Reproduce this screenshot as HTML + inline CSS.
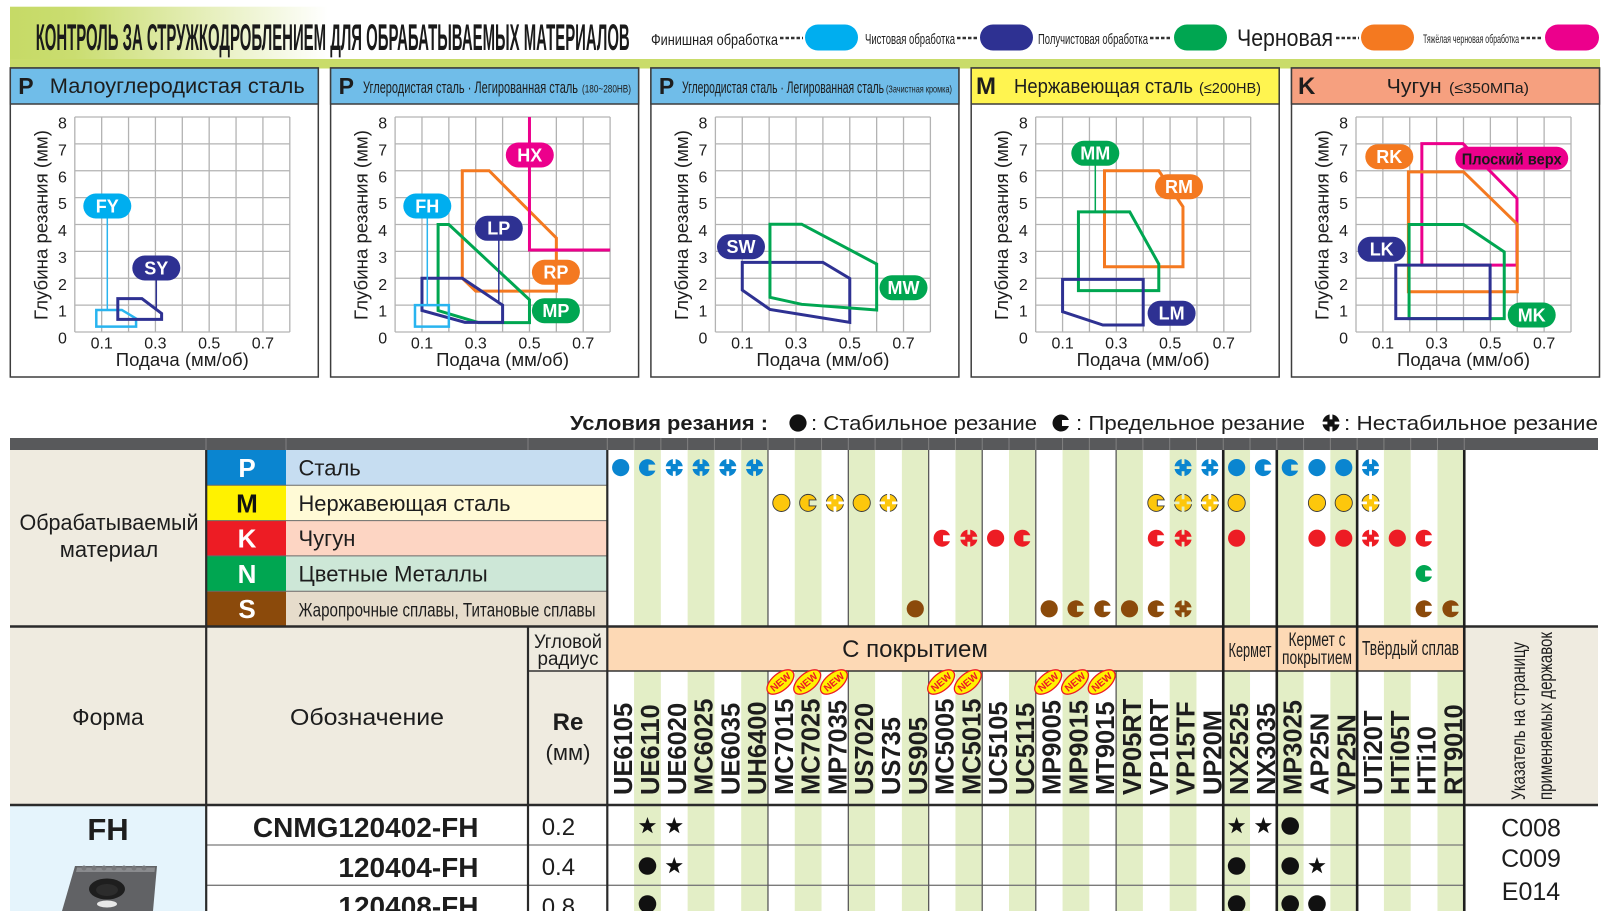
<!DOCTYPE html>
<html><head><meta charset="utf-8">
<style>
html,body{margin:0;padding:0;background:#fff;}
svg{display:block;}
text{font-family:"Liberation Sans","DejaVu Sans",sans-serif;fill:#1d1d1d;}
.d *{vector-effect:non-scaling-stroke;}
.pl{font-weight:bold;font-size:18px;fill:#fff;text-anchor:middle;}
.tk{font-size:16px;text-anchor:middle;fill:#222;}
.gn{font-size:25.5px;font-weight:bold;fill:#111;}
</style></head><body>
<svg xmlns="http://www.w3.org/2000/svg" xmlns:xlink="http://www.w3.org/1999/xlink" width="1611" height="911" viewBox="0 0 1611 911">
<defs>
 <linearGradient id="hg" x1="0" x2="1" y1="0" y2="0">
  <stop offset="0" stop-color="#c6da66"/>
  <stop offset="0.04" stop-color="#cadd70"/>
  <stop offset="0.2" stop-color="#ffffff"/>
 </linearGradient>
 <g id="grid" fill="none" stroke="#b3b3b3" stroke-width="1.3">
  <path d="M0,0H215M0,26.875H215M0,53.75H215M0,80.625H215M0,107.5H215M0,134.375H215M0,161.25H215M0,188.125H215M0,215H215M0,0V215M26.875,0V215M53.75,0V215M80.625,0V215M107.5,0V215M134.375,0V215M161.25,0V215M188.125,0V215M215,0V215"/>
 </g>
 <mask id="mX" maskContentUnits="userSpaceOnUse">
  <rect x="-11" y="-11" width="22" height="22" fill="#fff"/>
  <path d="M-1.4,-11h2.8v7.4h-2.8z M-1.4,3.6h2.8v7.4h-2.8z M-11,-1.4h7.4v2.8h-7.4z M3.6,-1.4h7.4v2.8h-7.4z" fill="#000"/>
 </mask>
 <g id="sF"><circle r="8.6"/></g>
 <g id="sC"><path d="M7.95,-3 A8.5,8.5 0 1 0 7.95,3 L1,3 L1,-3 Z"/></g>
 <g id="sX"><circle r="8.6" mask="url(#mX)"/></g>
 <g id="st"><polygon points="0,-9 2.12,-2.91 8.56,-2.78 3.42,1.11 5.29,7.28 0,3.6 -5.29,7.28 -3.42,1.11 -8.56,-2.78 -2.12,-2.91" fill="#111"/></g>
 <g id="dt"><circle r="8.8" fill="#111"/></g>
</defs>

<!-- header band -->
<rect x="10" y="6.7" width="1590" height="53" fill="url(#hg)"/>
<rect x="10" y="59" width="1590" height="9.5" fill="#c9dc6a"/>
<text x="35.7" y="50" font-size="37" font-weight="bold" textLength="594" lengthAdjust="spacingAndGlyphs" style="fill:#1a1a1a">КОНТРОЛЬ ЗА СТРУЖКОДРОБЛЕНИЕМ ДЛЯ ОБРАБАТЫВАЕМЫХ МАТЕРИАЛОВ</text>

<!-- top legend -->
<text x="651" y="45" font-size="16" textLength="127" lengthAdjust="spacingAndGlyphs">Финишная обработка</text>
<line x1="780" y1="38" x2="803" y2="38" stroke="#333" stroke-width="2.4" stroke-dasharray="3.5,2"/>
<rect x="805" y="24.5" width="53" height="26" rx="13" fill="#00aeef"/>
<text x="865" y="44" font-size="15" textLength="90" lengthAdjust="spacingAndGlyphs">Чистовая обработка</text>
<line x1="957" y1="38" x2="978" y2="38" stroke="#333" stroke-width="2.4" stroke-dasharray="3.5,2"/>
<rect x="980" y="24.5" width="53" height="26" rx="13" fill="#2e3192"/>
<text x="1038" y="44" font-size="15" textLength="110" lengthAdjust="spacingAndGlyphs">Получистовая обработка</text>
<line x1="1150" y1="38" x2="1171" y2="38" stroke="#333" stroke-width="2.4" stroke-dasharray="3.5,2"/>
<rect x="1174" y="24.5" width="53" height="26" rx="13" fill="#00a651"/>
<text x="1237" y="46" font-size="24" textLength="96" lengthAdjust="spacingAndGlyphs">Черновая</text>
<line x1="1336" y1="38" x2="1359" y2="38" stroke="#333" stroke-width="2.4" stroke-dasharray="3.5,2"/>
<rect x="1361" y="24.5" width="53" height="26" rx="13" fill="#f47920"/>
<text x="1423" y="43" font-size="12" textLength="96" lengthAdjust="spacingAndGlyphs">Тяжёлая черновая обработка</text>
<line x1="1521" y1="38" x2="1543" y2="38" stroke="#333" stroke-width="2.4" stroke-dasharray="3.5,2"/>
<rect x="1545" y="24.5" width="54" height="26" rx="13" fill="#ec008c"/>

<!-- ================= PANEL 1 ================= -->
<rect x="10.3" y="68" width="308" height="309" fill="#fff" stroke="#3d3d3d" stroke-width="1.5"/>
<rect x="10.3" y="68" width="308" height="36" fill="#70bde9" stroke="#3d3d3d" stroke-width="1.5"/>
<text x="18.3" y="94" font-size="23" font-weight="bold">P</text>
<text x="49.8" y="93" font-size="21" textLength="255" lengthAdjust="spacingAndGlyphs">Малоуглеродистая сталь</text>
<use href="#grid" x="74.8" y="117"/>
<g class="tk"><text x="62.4" y="343.5">0</text><text x="62.4" y="316.6">1</text><text x="62.4" y="289.8">2</text><text x="62.4" y="262.9">3</text><text x="62.4" y="236">4</text><text x="62.4" y="209.1">5</text><text x="62.4" y="182.3">6</text><text x="62.4" y="155.4">7</text><text x="62.4" y="128.5">8</text>
<text x="101.7" y="348.3">0.1</text><text x="155.4" y="348.3">0.3</text><text x="209.2" y="348.3">0.5</text><text x="262.9" y="348.3">0.7</text></g>
<text transform="translate(47.3,225) rotate(-90)" font-size="18" text-anchor="middle" textLength="190" lengthAdjust="spacingAndGlyphs">Глубина резания (мм)</text>
<text x="182.3" y="366" font-size="18" text-anchor="middle" textLength="133" lengthAdjust="spacingAndGlyphs">Подача (мм/об)</text>
<g class="d" transform="translate(74.8,332) scale(268.75,-26.875)" fill="none" stroke-width="3">
 <polygon points="0.08,0.2 0.08,0.82 0.175,0.82 0.228,0.5 0.228,0.2" stroke="#29b4ef" stroke-width="2.5"/>
 <polygon points="0.16,0.47 0.16,1.24 0.25,1.24 0.323,0.69 0.323,0.47" stroke="#2e3192"/>
</g>
<line x1="107.3" y1="218" x2="107.3" y2="310" stroke="#29b4ef" stroke-width="1.5"/>
<line x1="156.3" y1="280" x2="156.3" y2="308" stroke="#2e3192" stroke-width="1.5"/>
<rect x="83.3" y="193.5" width="48" height="25" rx="12.5" fill="#00aeef"/><text class="pl" x="107.3" y="212.3">FY</text>
<rect x="132.3" y="255.5" width="48" height="25" rx="12.5" fill="#2e3192"/><text class="pl" x="156.3" y="274.3">SY</text>

<!-- ================= PANEL 2 ================= -->
<rect x="330.6" y="68" width="308" height="309" fill="#fff" stroke="#3d3d3d" stroke-width="1.5"/>
<rect x="330.6" y="68" width="308" height="36" fill="#70bde9" stroke="#3d3d3d" stroke-width="1.5"/>
<text x="338.6" y="94" font-size="23" font-weight="bold">P</text>
<text x="363" y="93" font-size="17" textLength="215" lengthAdjust="spacingAndGlyphs">Углеродистая сталь · Легированная сталь</text>
<text x="582" y="92.5" font-size="11" textLength="49" lengthAdjust="spacingAndGlyphs">(180~280HB)</text>
<use href="#grid" x="395.1" y="117"/>
<g class="tk"><text x="382.7" y="343.5">0</text><text x="382.7" y="316.6">1</text><text x="382.7" y="289.8">2</text><text x="382.7" y="262.9">3</text><text x="382.7" y="236">4</text><text x="382.7" y="209.1">5</text><text x="382.7" y="182.3">6</text><text x="382.7" y="155.4">7</text><text x="382.7" y="128.5">8</text>
<text x="422" y="348.3">0.1</text><text x="475.7" y="348.3">0.3</text><text x="529.5" y="348.3">0.5</text><text x="583.2" y="348.3">0.7</text></g>
<text transform="translate(367.6,225) rotate(-90)" font-size="18" text-anchor="middle" textLength="190" lengthAdjust="spacingAndGlyphs">Глубина резания (мм)</text>
<text x="502.6" y="366" font-size="18" text-anchor="middle" textLength="133" lengthAdjust="spacingAndGlyphs">Подача (мм/об)</text>
<g class="d" transform="translate(395.1,332) scale(268.75,-26.875)" fill="none" stroke-width="3">
 <polygon points="0.25,6 0.35,6 0.6,3.5 0.6,1.52 0.3,1.52 0.25,2" stroke="#f47920"/>
 <polyline points="0.5,8 0.5,3.05 0.8,3.05" stroke="#ec008c"/>
 <polygon points="0.16,4 0.2,4 0.5,1.2 0.5,0.35 0.31,0.35 0.16,0.8" stroke="#00a651"/>
 <polygon points="0.1,2 0.25,2 0.4,1 0.4,0.36 0.26,0.36 0.1,0.8" stroke="#2e3192"/>
 <polygon points="0.074,0.2 0.074,1 0.2,1 0.2,0.2" stroke="#29b4ef" stroke-width="2.5"/>
</g>
<line x1="427.3" y1="218" x2="427.3" y2="305" stroke="#29b4ef" stroke-width="1.5"/>
<line x1="498.8" y1="240" x2="498.8" y2="303" stroke="#2e3192" stroke-width="1.5"/>
<rect x="403.3" y="193.5" width="48" height="25" rx="12.5" fill="#00aeef"/><text class="pl" x="427.3" y="212.3">FH</text>
<rect x="474.8" y="215.8" width="48" height="25" rx="12.5" fill="#2e3192"/><text class="pl" x="498.8" y="234.6">LP</text>
<rect x="505.8" y="142.5" width="48" height="25" rx="12.5" fill="#ec008c"/><text class="pl" x="529.8" y="161.3">HX</text>
<rect x="531.9" y="259.8" width="48" height="25" rx="12.5" fill="#f47920"/><text class="pl" x="555.9" y="278.6">RP</text>
<rect x="531.9" y="298.2" width="48" height="25" rx="12.5" fill="#00a651"/><text class="pl" x="555.9" y="317">MP</text>

<!-- ================= PANEL 3 ================= -->
<rect x="650.9" y="68" width="308" height="309" fill="#fff" stroke="#3d3d3d" stroke-width="1.5"/>
<rect x="650.9" y="68" width="308" height="36" fill="#70bde9" stroke="#3d3d3d" stroke-width="1.5"/>
<text x="658.9" y="94" font-size="23" font-weight="bold">P</text>
<text x="682" y="93" font-size="17" textLength="202" lengthAdjust="spacingAndGlyphs">Углеродистая сталь · Легированная сталь</text>
<text x="886" y="92.5" font-size="10" textLength="66" lengthAdjust="spacingAndGlyphs">(Зачистная кромка)</text>
<use href="#grid" x="715.4" y="117"/>
<g class="tk"><text x="703" y="343.5">0</text><text x="703" y="316.6">1</text><text x="703" y="289.8">2</text><text x="703" y="262.9">3</text><text x="703" y="236">4</text><text x="703" y="209.1">5</text><text x="703" y="182.3">6</text><text x="703" y="155.4">7</text><text x="703" y="128.5">8</text>
<text x="742.3" y="348.3">0.1</text><text x="796" y="348.3">0.3</text><text x="849.8" y="348.3">0.5</text><text x="903.5" y="348.3">0.7</text></g>
<text transform="translate(687.9,225) rotate(-90)" font-size="18" text-anchor="middle" textLength="190" lengthAdjust="spacingAndGlyphs">Глубина резания (мм)</text>
<text x="822.9" y="366" font-size="18" text-anchor="middle" textLength="133" lengthAdjust="spacingAndGlyphs">Подача (мм/об)</text>
<g class="d" transform="translate(715.4,332) scale(268.75,-26.875)" fill="none" stroke-width="3">
 <polygon points="0.1,2.59 0.4,2.59 0.5,1.99 0.5,0.36 0.203,0.84 0.1,1.56" stroke="#2e3192"/>
 <polygon points="0.203,4.01 0.321,4.01 0.6,2.53 0.6,0.82 0.321,1.03 0.203,1.29" stroke="#00a651"/>
</g>
<rect x="717" y="234.2" width="48" height="25" rx="12.5" fill="#2e3192"/><text class="pl" x="741" y="253">SW</text>
<rect x="879.5" y="275.2" width="48" height="25" rx="12.5" fill="#00a651"/><text class="pl" x="903.5" y="294">MW</text>

<!-- ================= PANEL 4 ================= -->
<rect x="971.2" y="68" width="308" height="309" fill="#fff" stroke="#3d3d3d" stroke-width="1.5"/>
<rect x="971.2" y="68" width="308" height="36" fill="#fff450" stroke="#3d3d3d" stroke-width="1.5"/>
<text x="976" y="94" font-size="24" font-weight="bold">M</text>
<text x="1014" y="93" font-size="20" textLength="179" lengthAdjust="spacingAndGlyphs">Нержавеющая сталь</text>
<text x="1199" y="93" font-size="15" textLength="62" lengthAdjust="spacingAndGlyphs">(≤200HB)</text>
<use href="#grid" x="1035.7" y="117"/>
<g class="tk"><text x="1023.3" y="343.5">0</text><text x="1023.3" y="316.6">1</text><text x="1023.3" y="289.8">2</text><text x="1023.3" y="262.9">3</text><text x="1023.3" y="236">4</text><text x="1023.3" y="209.1">5</text><text x="1023.3" y="182.3">6</text><text x="1023.3" y="155.4">7</text><text x="1023.3" y="128.5">8</text>
<text x="1062.6" y="348.3">0.1</text><text x="1116.3" y="348.3">0.3</text><text x="1170.1" y="348.3">0.5</text><text x="1223.8" y="348.3">0.7</text></g>
<text transform="translate(1008.2,225) rotate(-90)" font-size="18" text-anchor="middle" textLength="190" lengthAdjust="spacingAndGlyphs">Глубина резания (мм)</text>
<text x="1143.2" y="366" font-size="18" text-anchor="middle" textLength="133" lengthAdjust="spacingAndGlyphs">Подача (мм/об)</text>
<g class="d" transform="translate(1035.7,332) scale(268.75,-26.875)" fill="none" stroke-width="3">
 <polygon points="0.256,6 0.458,6 0.548,4.66 0.548,2.43 0.256,2.43" stroke="#f47920"/>
 <polygon points="0.159,4.47 0.35,4.47 0.458,2.53 0.458,1.54 0.159,1.54" stroke="#00a651"/>
 <polygon points="0.1,1.96 0.4,1.96 0.4,0.26 0.25,0.26 0.1,0.755" stroke="#2e3192"/>
</g>
<line x1="1095.3" y1="165" x2="1095.3" y2="212" stroke="#00a651" stroke-width="1.5"/>
<rect x="1071.3" y="140.8" width="48" height="25" rx="12.5" fill="#00a651"/><text class="pl" x="1095.3" y="159.6">MM</text>
<rect x="1155" y="174.2" width="48" height="25" rx="12.5" fill="#f47920"/><text class="pl" x="1179" y="193">RM</text>
<rect x="1147.6" y="300.8" width="48" height="25" rx="12.5" fill="#2e3192"/><text class="pl" x="1171.6" y="319.6">LM</text>

<!-- ================= PANEL 5 ================= -->
<rect x="1291.5" y="68" width="308" height="309" fill="#fff" stroke="#3d3d3d" stroke-width="1.5"/>
<rect x="1291.5" y="68" width="308" height="36" fill="#f6a07f" stroke="#3d3d3d" stroke-width="1.5"/>
<text x="1298" y="94" font-size="24" font-weight="bold">K</text>
<text x="1386.7" y="93" font-size="20" textLength="55" lengthAdjust="spacingAndGlyphs">Чугун</text>
<text x="1449" y="93" font-size="15" textLength="80" lengthAdjust="spacingAndGlyphs">(≤350МПа)</text>
<use href="#grid" x="1356" y="117"/>
<g class="tk"><text x="1343.6" y="343.5">0</text><text x="1343.6" y="316.6">1</text><text x="1343.6" y="289.8">2</text><text x="1343.6" y="262.9">3</text><text x="1343.6" y="236">4</text><text x="1343.6" y="209.1">5</text><text x="1343.6" y="182.3">6</text><text x="1343.6" y="155.4">7</text><text x="1343.6" y="128.5">8</text>
<text x="1382.9" y="348.3">0.1</text><text x="1436.6" y="348.3">0.3</text><text x="1490.4" y="348.3">0.5</text><text x="1544.1" y="348.3">0.7</text></g>
<text transform="translate(1328.5,225) rotate(-90)" font-size="18" text-anchor="middle" textLength="190" lengthAdjust="spacingAndGlyphs">Глубина резания (мм)</text>
<text x="1463.5" y="366" font-size="18" text-anchor="middle" textLength="133" lengthAdjust="spacingAndGlyphs">Подача (мм/об)</text>
<g class="d" transform="translate(1356,332) scale(268.75,-26.875)" fill="none" stroke-width="3">
 <polygon points="0.245,7.01 0.398,7.01 0.599,4.97 0.599,2.49 0.245,2.49" stroke="#ec008c"/>
 <polygon points="0.195,5.96 0.4,5.96 0.6,4.01 0.6,1.5 0.195,1.5" stroke="#f47920"/>
 <polygon points="0.1975,4 0.4,4 0.5516,2.98 0.5516,0.5 0.1975,0.5" stroke="#00a651"/>
 <polygon points="0.148,2.49 0.499,2.49 0.499,0.5 0.148,0.5" stroke="#2e3192"/>
</g>
<rect x="1365.3" y="144.2" width="48" height="25" rx="12.5" fill="#f47920"/><text class="pl" x="1389.3" y="163">RK</text>
<rect x="1455.2" y="146.8" width="113" height="23" rx="11.5" fill="#ec008c"/><text x="1511.7" y="164.3" font-size="16" font-weight="bold" text-anchor="middle" textLength="100" lengthAdjust="spacingAndGlyphs" style="fill:#1a1a1a">Плоский верх</text>
<rect x="1357.7" y="236.8" width="48" height="25" rx="12.5" fill="#2e3192"/><text class="pl" x="1381.7" y="255.6">LK</text>
<rect x="1507.7" y="302.5" width="48" height="25" rx="12.5" fill="#00a651"/><text class="pl" x="1531.7" y="321.3">MK</text>

<!-- cutting condition legend -->
<text x="570" y="430" font-size="20" font-weight="bold" textLength="198" lengthAdjust="spacingAndGlyphs">Условия резания :</text>
<use href="#sF" x="798" y="423" fill="#111"/>
<text x="811" y="430" font-size="20" textLength="226" lengthAdjust="spacingAndGlyphs">: Стабильное резание</text>
<use href="#sC" x="1061" y="423" fill="#111"/>
<text x="1076" y="430" font-size="20" textLength="229" lengthAdjust="spacingAndGlyphs">: Предельное резание</text>
<use href="#sX" x="1331" y="423" fill="#111"/>
<text x="1344" y="430" font-size="20" textLength="254" lengthAdjust="spacingAndGlyphs">: Нестабильное резание</text>

<!-- ================= TABLE ================= -->
<rect x="10" y="450" width="196" height="176.5" fill="#efebe0"/>
<rect x="206" y="450" width="80" height="35.3" fill="#0a85d0"/>
<rect x="206" y="485.3" width="80" height="35.3" fill="#fff200"/>
<rect x="206" y="520.6" width="80" height="35.3" fill="#ed1c24"/>
<rect x="206" y="555.9" width="80" height="35.3" fill="#00a651"/>
<rect x="206" y="591.2" width="80" height="35.3" fill="#8b4a0b"/>
<rect x="286" y="450" width="321.3" height="35.3" fill="#c6ddf1"/>
<rect x="286" y="485.3" width="321.3" height="35.3" fill="#fffad6"/>
<rect x="286" y="520.6" width="321.3" height="35.3" fill="#fdd5c3"/>
<rect x="286" y="555.9" width="321.3" height="35.3" fill="#cde7d7"/>
<rect x="286" y="591.2" width="321.3" height="35.3" fill="#e6dccb"/>
<rect x="10" y="626.5" width="597.3" height="178.5" fill="#efebe0"/>
<rect x="1464.3" y="626.5" width="133.7" height="178.5" fill="#efebe0"/>
<rect x="10" y="805" width="196.4" height="106" fill="#e5f4fc"/>

<g fill="#e3eec6">
<rect x="634.08" y="450" width="26.78" height="461"/>
<rect x="687.64" y="450" width="26.78" height="461"/>
<rect x="741.2" y="450" width="26.78" height="461"/>
<rect x="794.76" y="450" width="26.78" height="461"/>
<rect x="848.32" y="450" width="26.78" height="461"/>
<rect x="901.88" y="450" width="26.78" height="461"/>
<rect x="955.44" y="450" width="26.78" height="461"/>
<rect x="1009" y="450" width="26.78" height="461"/>
<rect x="1062.56" y="450" width="26.78" height="461"/>
<rect x="1116.12" y="450" width="26.78" height="461"/>
<rect x="1169.68" y="450" width="26.78" height="461"/>
<rect x="1223.24" y="450" width="26.78" height="461"/>
<rect x="1276.8" y="450" width="26.78" height="461"/>
<rect x="1330.36" y="450" width="26.78" height="461"/>
<rect x="1383.92" y="450" width="26.78" height="461"/>
<rect x="1437.48" y="450" width="26.78" height="461"/>
</g>
<rect x="607.3" y="627.5" width="857" height="43.5" fill="#fdd9b5"/>

<rect x="10" y="438" width="1588" height="12" fill="#58595b"/>
<g stroke="#808080" stroke-width="1">
<path d="M206,438V450M286,438V450M528,438V450M607.3,438V450M634.08,438V450M660.86,438V450M687.64,438V450M714.42,438V450M741.2,438V450M767.98,438V450M794.76,438V450M821.54,438V450M848.32,438V450M875.1,438V450M901.88,438V450M928.66,438V450M955.44,438V450M982.22,438V450M1009,438V450M1035.78,438V450M1062.56,438V450M1089.34,438V450M1116.12,438V450M1142.9,438V450M1169.68,438V450M1196.46,438V450M1223.24,438V450M1250.02,438V450M1276.8,438V450M1303.58,438V450M1330.36,438V450M1357.14,438V450M1383.92,438V450M1410.7,438V450M1437.48,438V450M1464.26,438V450"/>
</g>

<g stroke="#6a6a6a" stroke-width="1">
<path d="M206,485.3H607.3M206,520.6H607.3M206,555.9H607.3M206,591.2H607.3"/>
</g>
<g stroke="#7a7a7a" stroke-width="1.3">
<path d="M206.4,845H1464.3M206.4,885.3H1464.3"/>
</g>
<g stroke="#5a5a5a" stroke-width="1.3">
<path d="M767.98,450V626.5M848.32,450V626.5M928.66,450V626.5M982.22,450V626.5M1035.78,450V626.5M1116.12,450V626.5"/>
<path d="M767.98,671V911M848.32,671V911M928.66,671V911M982.22,671V911M1035.78,671V911M1116.12,671V911"/>
</g>
<line x1="528" y1="671" x2="1464.3" y2="671" stroke="#333" stroke-width="1.5"/>
<line x1="10" y1="626.5" x2="1598" y2="626.5" stroke="#2a2a2a" stroke-width="2.5"/>
<line x1="10" y1="805" x2="1598" y2="805" stroke="#2a2a2a" stroke-width="2.5"/>
<g stroke="#2a2a2a" stroke-width="2.2">
<path d="M206.2,450V911M528,626.5V911M607.3,450V911"/>
</g>
<g stroke="#1f1f1f" stroke-width="2.6">
<path d="M1223.24,450V911M1276.8,450V911M1357.14,450V911M1464.26,450V911"/>
</g>

<text x="109" y="530" font-size="22" text-anchor="middle" textLength="179" lengthAdjust="spacingAndGlyphs">Обрабатываемый</text>
<text x="109" y="557" font-size="22" text-anchor="middle">материал</text>
<g font-size="26" font-weight="bold" text-anchor="middle">
<text x="247" y="477" style="fill:#fff">P</text>
<text x="247" y="512.3" style="fill:#111">M</text>
<text x="247" y="547.6" style="fill:#fff">K</text>
<text x="247" y="582.9" style="fill:#fff">N</text>
<text x="247" y="618.2" style="fill:#fff">S</text>
</g>
<g font-size="22">
<text x="298.5" y="475.6">Сталь</text>
<text x="298.5" y="510.9" textLength="212" lengthAdjust="spacingAndGlyphs">Нержавеющая сталь</text>
<text x="298.5" y="546.2">Чугун</text>
<text x="298.5" y="581.5">Цветные Металлы</text>
</g>
<text x="298.5" y="616.3" font-size="19" textLength="297" lengthAdjust="spacingAndGlyphs">Жаропрочные сплавы, Титановые сплавы</text>

<g fill="#0a85d0">
<use href="#sF" x="620.69" y="467.6"/><use href="#sC" x="647.47" y="467.6"/><use href="#sX" x="674.25" y="467.6"/><use href="#sX" x="701.03" y="467.6"/><use href="#sX" x="727.81" y="467.6"/><use href="#sX" x="754.59" y="467.6"/>
<use href="#sX" x="1183.07" y="467.6"/><use href="#sX" x="1209.85" y="467.6"/><use href="#sF" x="1236.63" y="467.6"/><use href="#sC" x="1263.41" y="467.6"/><use href="#sC" x="1290.19" y="467.6"/><use href="#sF" x="1316.97" y="467.6"/><use href="#sF" x="1343.75" y="467.6"/><use href="#sX" x="1370.53" y="467.6"/>
</g>
<g fill="#fdc70c" stroke="#3a3a3a" stroke-width="0.9">
<use href="#sF" x="781.37" y="502.9"/><use href="#sC" x="808.15" y="502.9"/><use href="#sX" x="834.93" y="502.9"/><use href="#sF" x="861.71" y="502.9"/><use href="#sX" x="888.49" y="502.9"/>
<use href="#sC" x="1156.29" y="502.9"/><use href="#sX" x="1183.07" y="502.9"/><use href="#sX" x="1209.85" y="502.9"/><use href="#sF" x="1236.63" y="502.9"/><use href="#sF" x="1316.97" y="502.9"/><use href="#sF" x="1343.75" y="502.9"/><use href="#sX" x="1370.53" y="502.9"/>
</g>
<g fill="#ed1c24">
<use href="#sC" x="942.05" y="538.2"/><use href="#sX" x="968.83" y="538.2"/><use href="#sF" x="995.61" y="538.2"/><use href="#sC" x="1022.39" y="538.2"/>
<use href="#sC" x="1156.29" y="538.2"/><use href="#sX" x="1183.07" y="538.2"/><use href="#sF" x="1236.63" y="538.2"/><use href="#sF" x="1316.97" y="538.2"/><use href="#sF" x="1343.75" y="538.2"/><use href="#sX" x="1370.53" y="538.2"/><use href="#sF" x="1397.31" y="538.2"/><use href="#sC" x="1424.09" y="538.2"/>
</g>
<use href="#sC" x="1424.09" y="573.5" fill="#00a651"/>
<g fill="#8b4a0b">
<use href="#sF" x="915.27" y="608.8"/><use href="#sF" x="1049.17" y="608.8"/><use href="#sC" x="1075.95" y="608.8"/><use href="#sC" x="1102.73" y="608.8"/><use href="#sF" x="1129.51" y="608.8"/><use href="#sC" x="1156.29" y="608.8"/><use href="#sX" x="1183.07" y="608.8"/>
<use href="#sC" x="1424.09" y="608.8"/><use href="#sC" x="1450.87" y="608.8"/>
</g>

<text x="108" y="725" font-size="23" text-anchor="middle">Форма</text>
<text x="367" y="725" font-size="23" text-anchor="middle" textLength="154" lengthAdjust="spacingAndGlyphs">Обозначение</text>
<text x="568" y="648" font-size="19" text-anchor="middle" textLength="68" lengthAdjust="spacingAndGlyphs">Угловой</text>
<text x="568" y="665" font-size="19" text-anchor="middle" textLength="61" lengthAdjust="spacingAndGlyphs">радиус</text>
<text x="568" y="730" font-size="24" font-weight="bold" text-anchor="middle">Re</text>
<text x="568" y="760" font-size="22" text-anchor="middle">(мм)</text>
<text x="915" y="657" font-size="24" text-anchor="middle">С покрытием</text>
<text x="1250" y="657" font-size="20" text-anchor="middle" textLength="43" lengthAdjust="spacingAndGlyphs">Кермет</text>
<text x="1317" y="646" font-size="19" text-anchor="middle" textLength="57" lengthAdjust="spacingAndGlyphs">Кермет с</text>
<text x="1317" y="664" font-size="19" text-anchor="middle" textLength="70" lengthAdjust="spacingAndGlyphs">покрытием</text>
<text x="1410.5" y="655" font-size="20" text-anchor="middle" textLength="97" lengthAdjust="spacingAndGlyphs">Твёрдый сплав</text>
<text transform="translate(1525,721) rotate(-90)" font-size="19" text-anchor="middle" textLength="158" lengthAdjust="spacingAndGlyphs">Указатель на страницу</text>
<text transform="translate(1552,716) rotate(-90)" font-size="19" text-anchor="middle" textLength="168" lengthAdjust="spacingAndGlyphs">применяемых державок</text>

<g font-size="10" font-weight="bold" text-anchor="middle">
<g transform="translate(780.4,682) rotate(-40)"><ellipse rx="16" ry="8.5" fill="#fff200" stroke="#ed1c24" stroke-width="1.3"/><text y="3.5" style="fill:#ed1c24">NEW</text></g>
<g transform="translate(807.2,682) rotate(-40)"><ellipse rx="16" ry="8.5" fill="#fff200" stroke="#ed1c24" stroke-width="1.3"/><text y="3.5" style="fill:#ed1c24">NEW</text></g>
<g transform="translate(833.9,682) rotate(-40)"><ellipse rx="16" ry="8.5" fill="#fff200" stroke="#ed1c24" stroke-width="1.3"/><text y="3.5" style="fill:#ed1c24">NEW</text></g>
<g transform="translate(941.1,682) rotate(-40)"><ellipse rx="16" ry="8.5" fill="#fff200" stroke="#ed1c24" stroke-width="1.3"/><text y="3.5" style="fill:#ed1c24">NEW</text></g>
<g transform="translate(967.8,682) rotate(-40)"><ellipse rx="16" ry="8.5" fill="#fff200" stroke="#ed1c24" stroke-width="1.3"/><text y="3.5" style="fill:#ed1c24">NEW</text></g>
<g transform="translate(1048.2,682) rotate(-40)"><ellipse rx="16" ry="8.5" fill="#fff200" stroke="#ed1c24" stroke-width="1.3"/><text y="3.5" style="fill:#ed1c24">NEW</text></g>
<g transform="translate(1075,682) rotate(-40)"><ellipse rx="16" ry="8.5" fill="#fff200" stroke="#ed1c24" stroke-width="1.3"/><text y="3.5" style="fill:#ed1c24">NEW</text></g>
<g transform="translate(1101.7,682) rotate(-40)"><ellipse rx="16" ry="8.5" fill="#fff200" stroke="#ed1c24" stroke-width="1.3"/><text y="3.5" style="fill:#ed1c24">NEW</text></g>
</g>

<g class="gn">
<text transform="translate(632.2,795) rotate(-90)">UE6105</text>
<text transform="translate(659,795) rotate(-90)">UE6110</text>
<text transform="translate(685.8,795) rotate(-90)">UE6020</text>
<text transform="translate(712.5,795) rotate(-90)">MC6025</text>
<text transform="translate(739.3,795) rotate(-90)">UE6035</text>
<text transform="translate(766.1,795) rotate(-90)">UH6400</text>
<text transform="translate(792.9,795) rotate(-90)">MC7015</text>
<text transform="translate(819.7,795) rotate(-90)">MC7025</text>
<text transform="translate(846.4,795) rotate(-90)">MP7035</text>
<text transform="translate(873.2,795) rotate(-90)">US7020</text>
<text transform="translate(900,795) rotate(-90)">US735</text>
<text transform="translate(926.8,795) rotate(-90)">US905</text>
<text transform="translate(953.6,795) rotate(-90)">MC5005</text>
<text transform="translate(980.3,795) rotate(-90)">MC5015</text>
<text transform="translate(1007.1,795) rotate(-90)">UC5105</text>
<text transform="translate(1033.9,795) rotate(-90)">UC5115</text>
<text transform="translate(1060.7,795) rotate(-90)">MP9005</text>
<text transform="translate(1087.5,795) rotate(-90)">MP9015</text>
<text transform="translate(1114.2,795) rotate(-90)">MT9015</text>
<text transform="translate(1141,795) rotate(-90)">VP05RT</text>
<text transform="translate(1167.8,795) rotate(-90)">VP10RT</text>
<text transform="translate(1194.6,795) rotate(-90)">VP15TF</text>
<text transform="translate(1221.4,795) rotate(-90)">UP20M</text>
<text transform="translate(1248.1,795) rotate(-90)">NX2525</text>
<text transform="translate(1274.9,795) rotate(-90)">NX3035</text>
<text transform="translate(1301.7,795) rotate(-90)">MP3025</text>
<text transform="translate(1328.5,795) rotate(-90)">AP25N</text>
<text transform="translate(1355.3,795) rotate(-90)">VP25N</text>
<text transform="translate(1382,795) rotate(-90)">UTi20T</text>
<text transform="translate(1408.8,795) rotate(-90)">HTi05T</text>
<text transform="translate(1435.6,795) rotate(-90)">HTi10</text>
<text transform="translate(1462.4,795) rotate(-90)">RT9010</text>
</g>

<text x="108" y="840" font-size="31" font-weight="bold" text-anchor="middle">FH</text>
<g font-size="28" font-weight="bold" text-anchor="end">
<text x="478.5" y="837">CNMG120402-FH</text>
<text x="478.5" y="877">120404-FH</text>
<text x="478.5" y="916">120408-FH</text>
</g>
<g font-size="24">
<text x="541.7" y="835">0.2</text>
<text x="541.7" y="875">0.4</text>
<text x="541.7" y="915">0.8</text>
</g>
<g font-size="25" text-anchor="middle">
<text x="1531" y="836.7">C008</text>
<text x="1531" y="867">C009</text>
<text x="1531" y="900">E014</text>
</g>
<use href="#st" x="647.47" y="826"/><use href="#st" x="674.25" y="826"/><use href="#st" x="1236.63" y="826"/><use href="#st" x="1263.41" y="826"/><use href="#dt" x="1290.19" y="826"/>
<use href="#dt" x="647.47" y="866"/><use href="#st" x="674.25" y="866"/><use href="#dt" x="1236.63" y="866"/><use href="#dt" x="1290.19" y="866"/><use href="#st" x="1316.97" y="866"/>
<use href="#dt" x="647.47" y="904"/><use href="#dt" x="1236.63" y="904"/><use href="#dt" x="1290.19" y="904"/><use href="#dt" x="1316.97" y="904"/>

<polygon points="75,866 157,866 153,911 62,911" fill="#616265"/>
<polygon points="77,867.5 155,867.5 154.5,872 76,872" fill="#8a8b8e"/>
<g fill="#77787b"><circle cx="84" cy="868" r="2.5"/><circle cx="94" cy="868" r="2.5"/><circle cx="104" cy="868" r="2.5"/><circle cx="114" cy="868" r="2.5"/><circle cx="124" cy="868" r="2.5"/><circle cx="134" cy="868" r="2.5"/><circle cx="144" cy="868" r="2.5"/></g>
<ellipse cx="107" cy="889" rx="18" ry="10.5" fill="#1e1e1e"/>
<ellipse cx="107" cy="890" rx="11" ry="6" fill="#2c2c2c"/>
<ellipse cx="107" cy="904" rx="10" ry="3.5" fill="#e8e8e8"/>
</svg>
</body></html>
